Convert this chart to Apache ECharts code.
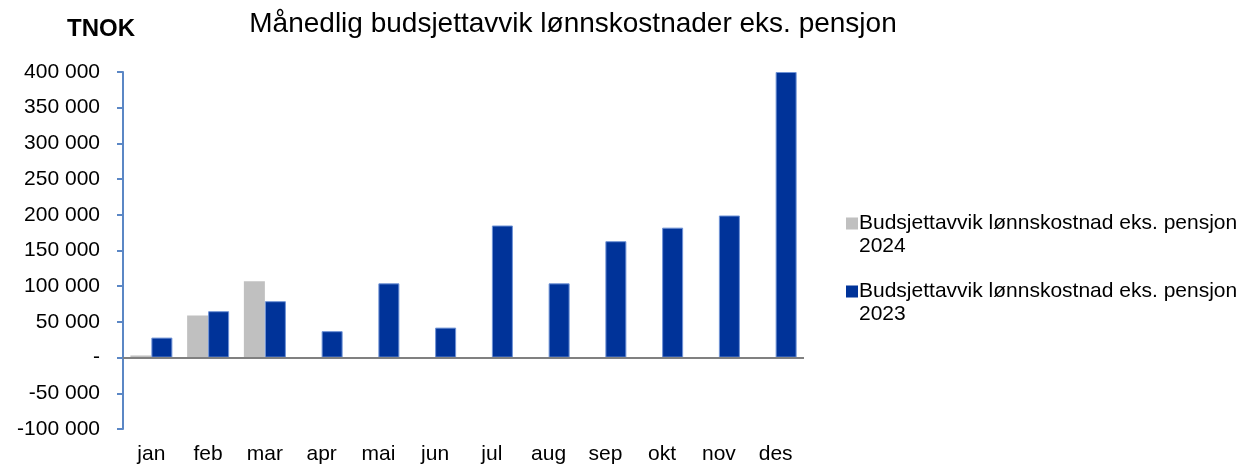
<!DOCTYPE html>
<html>
<head>
<meta charset="utf-8">
<script src="https://cdn.jsdelivr.net/npm/echarts@6/dist/echarts.min.js"></script>
<style>
  html, body { margin: 0; padding: 0; background: #fff; }
  #chart { width: 1249px; height: 466px; }
</style>
</head>
<body>
<div id="chart"></div>
<script>
// data
const months = ['jan', 'feb', 'mar', 'apr', 'mai', 'jun', 'jul', 'aug', 'sep', 'okt', 'nov', 'des'];
const avvik2024 = [3000, 59000, 107000, null, null, null, null, null, null, null, null, null];
const avvik2023 = [28000, 65000, 79000, 37000, 104000, 42000, 185000, 104000, 163000, 182000, 199000, 400000];
const seriesNames = ['Budsjettavvik lønnskostnad eks. pensjon 2024', 'Budsjettavvik lønnskostnad eks. pensjon 2023'];

const fmt = v => {
  if (v === 0) return '-';
  const s = Math.abs(v).toString().replace(/\B(?=(\d{3})+(?!\d))/g, ' ');
  return (v < 0 ? '-' : '') + s;
};

const chart = echarts.init(document.getElementById('chart'));
// icon box taller than the square so it lines up with the first text line
const legendIcon = 'path://M0,0h12v12h-12z M0,34.9h0.1v0.1h-0.1z';

chart.setOption({
  animation: false,
  textStyle: { fontFamily: 'Liberation Sans, Arial, sans-serif', color: '#000' },
  title: [
    {
      text: 'Månedlig budsjettavvik lønnskostnader eks. pensjon',
      left: 568, top: 5, textAlign: 'center',
      textStyle: { fontSize: 28, fontWeight: 'normal', color: '#000' }
    },
    {
      text: 'TNOK',
      left: 62, top: 12,
      textStyle: { fontSize: 24, fontWeight: 'bold', color: '#000' }
    }
  ],
  legend: {
    orient: 'vertical',
    left: 841, top: 207,
    itemWidth: 12, itemHeight: 35,
    itemGap: 22,
    icon: legendIcon,
    itemStyle: { borderWidth: 0 },
    formatter: name => name.replace(/ (\d{4})$/, '\n$1'),
    textStyle: { fontSize: 21, lineHeight: 23, color: '#000', padding: [0, 0, 0, -4] },
    data: seriesNames
  },
  grid: { left: 123, right: 445, top: 72, bottom: 37 },
  xAxis: {
    type: 'category',
    data: months,
    axisLine: { show: false },
    axisTick: { show: false },
    axisLabel: { fontSize: 21, color: '#000', margin: 15 }
  },
  yAxis: {
    type: 'value',
    min: -100000, max: 400000, interval: 50000,
    axisLine: { show: true, lineStyle: { color: '#5b87c5', width: 2 } },
    axisTick: { show: true, length: 6, lineStyle: { color: '#5b87c5', width: 2 } },
    axisLabel: { fontSize: 21, color: '#000', margin: 23, formatter: fmt },
    splitLine: { show: false }
  },
  series: [
    {
      name: seriesNames[0],
      type: 'bar',
      data: avvik2024,
      barWidth: 21,
      barGap: '0%',
      itemStyle: { color: '#c0c0c0' }
    },
    {
      name: seriesNames[1],
      type: 'bar',
      data: avvik2023,
      barWidth: 21,
      itemStyle: { color: '#003399', borderColor: '#6f93d6', borderWidth: 1 },
      markLine: {
        silent: true,
        symbol: 'none',
        label: { show: false },
        lineStyle: { color: '#808080', width: 2, type: 'solid' },
        data: [{ yAxis: 0 }]
      }
    }
  ]
});
</script>
</body>
</html>
